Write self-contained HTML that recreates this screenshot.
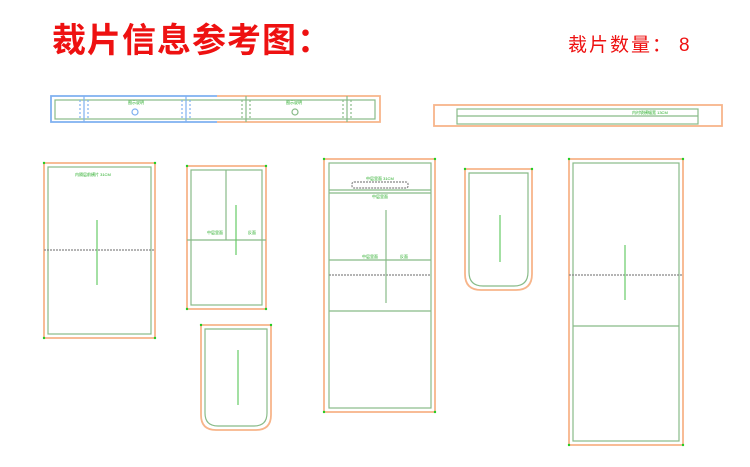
<!DOCTYPE html>
<html><head><meta charset="utf-8"><style>
html,body{margin:0;padding:0;background:#fff;width:750px;height:467px;overflow:hidden}
svg{display:block}
text{font-family:"Liberation Sans","Noto Sans CJK SC",sans-serif}
</style></head><body>
<svg width="750" height="467" viewBox="0 0 750 467" xmlns="http://www.w3.org/2000/svg">
<text x="52" y="52" font-size="34" font-weight="bold" fill="#ee1111" letter-spacing="1">裁片信息参考图：</text>
<text x="568" y="51" font-size="19" fill="#ee1111" letter-spacing="2">裁片数量：<tspan dx="6">8</tspan></text>
<g fill="none" stroke-width="1.2">
<path d="M217 96H51V122H217" stroke="#7fb0f0" stroke-width="1.8"/>
<path d="M217 96H380V122H217" stroke="#f7b58a" stroke-width="1.8"/>
<rect x="55" y="100" width="320" height="19" stroke="#8b8"/>
<g stroke="#7fb0f0" stroke-dasharray="2,2"><line x1="80" y1="100" x2="80" y2="119"/><line x1="88" y1="100" x2="88" y2="119"/><line x1="182" y1="100" x2="182" y2="119"/><line x1="190" y1="100" x2="190" y2="119"/></g>
<g stroke="#8b8" stroke-dasharray="2,2"><line x1="242" y1="100" x2="242" y2="119"/><line x1="250" y1="100" x2="250" y2="119"/><line x1="343" y1="100" x2="343" y2="119"/><line x1="351" y1="100" x2="351" y2="119"/></g>
<line x1="84" y1="96" x2="84" y2="122" stroke="#7fb0f0"/><line x1="186" y1="96" x2="186" y2="122" stroke="#7fb0f0"/>
<line x1="246" y1="96" x2="246" y2="122" stroke="#8b8"/><line x1="347" y1="96" x2="347" y2="122" stroke="#8b8"/>
<circle cx="135" cy="112" r="3" stroke="#7fb0f0"/><circle cx="295" cy="112" r="3" stroke="#8b8"/>
<rect x="434" y="105" width="288" height="21" stroke="#f7b58a" stroke-width="1.8"/>
<rect x="457" y="109" width="241" height="15" stroke="#8b8"/>
<line x1="457" y1="116" x2="698" y2="116" stroke="#8b8"/>
<rect x="44" y="163" width="111" height="175" stroke="#f7b58a" stroke-width="1.8"/>
<rect x="48" y="167" width="103" height="167" stroke="#8b8"/>
<line x1="44" y1="250" x2="155" y2="250" stroke="#888" stroke-dasharray="2,1"/>
<line x1="97" y1="220" x2="97" y2="285" stroke="#6c6"/>
<rect x="187" y="166" width="79" height="143" stroke="#f7b58a" stroke-width="1.8"/>
<rect x="191" y="170" width="71" height="135" stroke="#8b8"/>
<line x1="226" y1="170" x2="226" y2="240" stroke="#8b8"/><line x1="187" y1="240" x2="266" y2="240" stroke="#8b8"/>
<line x1="236" y1="205" x2="236" y2="255" stroke="#6c6"/>
<path d="M201 325H271V415Q271 430 256 430H216Q201 430 201 415Z" stroke="#f7b58a" stroke-width="1.8"/>
<path d="M205 329H267V413Q267 426 254 426H218Q205 426 205 413Z" stroke="#8b8"/>
<line x1="238" y1="350" x2="238" y2="405" stroke="#6c6"/>
<rect x="324" y="159" width="111" height="253" stroke="#f7b58a" stroke-width="1.8"/>
<rect x="329" y="163" width="102" height="245" stroke="#8b8"/>
<rect x="352" y="182" width="56" height="6" rx="2" stroke="#888" stroke-dasharray="2,1"/>
<line x1="329" y1="190" x2="431" y2="190" stroke="#8b8"/><line x1="329" y1="193" x2="431" y2="193" stroke="#8b8"/>
<line x1="329" y1="260" x2="431" y2="260" stroke="#8b8"/>
<line x1="329" y1="275" x2="431" y2="275" stroke="#888" stroke-dasharray="2,1"/>
<line x1="329" y1="311" x2="431" y2="311" stroke="#8b8"/>
<line x1="386" y1="210" x2="386" y2="303" stroke="#8b8"/>
<path d="M465 169H532V274Q532 290 516 290H481Q465 290 465 274Z" stroke="#f7b58a" stroke-width="1.8"/>
<path d="M469 173H528V272Q528 286 514 286H483Q469 286 469 272Z" stroke="#8b8"/>
<line x1="500" y1="215" x2="500" y2="262" stroke="#6c6"/>
<rect x="569" y="159" width="114" height="286" stroke="#f7b58a" stroke-width="1.8"/>
<rect x="573" y="163" width="106" height="278" stroke="#8b8"/>
<line x1="569" y1="275" x2="683" y2="275" stroke="#888" stroke-dasharray="2,1"/>
<line x1="573" y1="326" x2="679" y2="326" stroke="#8b8"/>
<line x1="625" y1="245" x2="625" y2="300" stroke="#6c6"/>
</g>
<g fill="#2a2" font-size="4">
<text x="128" y="104">图示说明</text><text x="286" y="104">图示说明</text>
<text x="632" y="114">内衬袋横幅宽 13CM</text>
<text x="75" y="176">内隔层前横片 31CM</text>
<text x="207" y="234">中层里面</text><text x="248" y="234">反面</text>
<text x="366" y="180">中层里面 31CM</text><text x="372" y="198">中层里面</text>
<text x="362" y="258">中层里面</text><text x="400" y="258">反面</text>
</g>
<g fill="#22cc22">
<circle cx="44" cy="163" r="1.2"/><circle cx="155" cy="163" r="1.2"/><circle cx="44" cy="338" r="1.2"/><circle cx="155" cy="338" r="1.2"/>
<circle cx="187" cy="166" r="1.2"/><circle cx="266" cy="166" r="1.2"/><circle cx="187" cy="309" r="1.2"/><circle cx="266" cy="309" r="1.2"/>
<circle cx="324" cy="159" r="1.2"/><circle cx="435" cy="159" r="1.2"/><circle cx="324" cy="412" r="1.2"/><circle cx="435" cy="412" r="1.2"/>
<circle cx="569" cy="159" r="1.2"/><circle cx="683" cy="159" r="1.2"/><circle cx="569" cy="445" r="1.2"/><circle cx="683" cy="445" r="1.2"/>
<circle cx="465" cy="169" r="1.2"/><circle cx="532" cy="169" r="1.2"/><circle cx="201" cy="325" r="1.2"/><circle cx="271" cy="325" r="1.2"/>
</g>
</svg>
</body></html>
